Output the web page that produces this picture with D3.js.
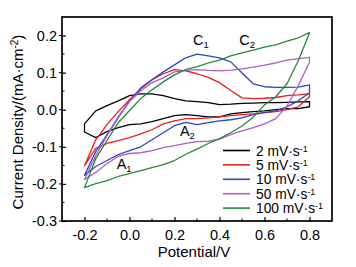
<!DOCTYPE html>
<html>
<head>
<meta charset="utf-8">
<script src="https://cdn.jsdelivr.net/npm/d3@7"></script>
<style>
  body { margin: 0; background: #fff; }
  text { font-family: "Liberation Sans", Arial, sans-serif; fill: #000; }
</style>
</head>
<body>
<div id="chart"></div>
<script>
// potential grid (V) shared by every scan
const potential = [-0.2, -0.15, -0.1, -0.05, 0.0, 0.05, 0.1, 0.15, 0.2, 0.25, 0.3,
                   0.35, 0.4, 0.45, 0.5, 0.55, 0.6, 0.65, 0.7, 0.75, 0.8]

// current density (mA/cm2), forward (anodic) and return (cathodic) sweeps
const anodic2    = [-0.038, -0.003, 0.011, 0.024, 0.038, 0.043, 0.043, 0.038, 0.030, 0.024, 0.022, 0.019, 0.014, 0.015, 0.017, 0.018, 0.019, 0.019, 0.020, 0.021, 0.022]
const cathodic2  = [-0.060, -0.075, -0.059, -0.048, -0.040, -0.038, -0.032, -0.024, -0.016, -0.013, -0.016, -0.019, -0.019, -0.011, -0.008, -0.005, -0.003, 0.000, 0.003, 0.003, 0.008]
const anodic5    = [-0.151, -0.081, -0.040, -0.005, 0.027, 0.056, 0.081, 0.097, 0.108, 0.105, 0.097, 0.087, 0.073, 0.052, 0.032, 0.030, 0.031, 0.033, 0.038, 0.040, 0.043]
const cathodic5  = [-0.151, -0.104, -0.091, -0.083, -0.075, -0.065, -0.054, -0.038, -0.030, -0.024, -0.024, -0.022, -0.019, -0.016, -0.013, -0.011, -0.008, -0.005, 0.000, 0.008, 0.035]
const anodic10   = [-0.177, -0.113, -0.067, -0.020, 0.024, 0.059, 0.081, 0.102, 0.121, 0.140, 0.150, 0.145, 0.140, 0.129, 0.099, 0.070, 0.062, 0.060, 0.060, 0.061, 0.067]
const cathodic10 = [-0.177, -0.153, -0.137, -0.121, -0.110, -0.100, -0.081, -0.062, -0.043, -0.034, -0.040, -0.035, -0.030, -0.027, -0.022, -0.013, -0.008, -0.003, 0.008, 0.024, 0.046]
const anodic50   = [-0.188, -0.124, -0.070, -0.022, 0.022, 0.051, 0.073, 0.086, 0.102, 0.106, 0.108, 0.106, 0.105, 0.107, 0.110, 0.115, 0.120, 0.126, 0.134, 0.138, 0.141]
const cathodic50 = [-0.188, -0.169, -0.145, -0.126, -0.118, -0.116, -0.110, -0.102, -0.097, -0.091, -0.086, -0.085, -0.079, -0.067, -0.057, -0.048, -0.038, -0.024, 0.010, 0.065, 0.128]
const anodic100  = [-0.210, -0.132, -0.083, -0.035, -0.002, 0.030, 0.054, 0.075, 0.094, 0.108, 0.116, 0.126, 0.134, 0.145, 0.153, 0.161, 0.169, 0.175, 0.185, 0.194, 0.208]
const cathodic100= [-0.210, -0.199, -0.191, -0.180, -0.172, -0.164, -0.156, -0.148, -0.137, -0.120, -0.106, -0.091, -0.078, -0.062, -0.044, -0.020, 0.013, 0.035, 0.070, 0.132, 0.207]

const scanRates = ["2", "5", "10", "50", "100"]
const colors = ["#000000", "#ee1c1c", "#2e45c4", "#b35bc6", "#23893a"]

const xTicks = [-0.2, 0.0, 0.2, 0.4, 0.6, 0.8]
const xMinor = [-0.1, 0.1, 0.3, 0.5, 0.7]
const yTicks = [-0.3, -0.2, -0.1, 0.0, 0.1, 0.2]
const yMinor = [-0.25, -0.15, -0.05, 0.05, 0.15]

const peakLabels = [
  {main: "C", sub: "1", x: 0.282, y: 0.175},
  {main: "C", sub: "2", x: 0.488, y: 0.175},
  {main: "A", sub: "2", x: 0.224, y: -0.070},
  {main: "A", sub: "1", x: -0.057, y: -0.159}
]

const width = 356, height = 267
const margin = {left: 62, right: 24, top: 17, bottom: 46}

const svg = d3.select("#chart").append("svg")
  .attr("width", width).attr("height", height)

const x = d3.scaleLinear().domain([-0.3, 0.9]).range([margin.left, width - margin.right])
const y = d3.scaleLinear().domain([-0.3, 0.25]).range([height - margin.bottom, margin.top])

const scans = [
  [anodic2, cathodic2], [anodic5, cathodic5], [anodic10, cathodic10],
  [anodic50, cathodic50], [anodic100, cathodic100]
]

const line = d3.line().x(d => x(d[0])).y(d => y(d[1]))

scans.forEach((s, i) => {
  const fwd = potential.map((p, j) => [p, s[0][j]])
  const back = potential.map((p, j) => [p, s[1][j]]).reverse()
  svg.append("path")
    .attr("d", line(fwd.concat(back)) + "Z")
    .attr("fill", "none")
    .attr("stroke", colors[i])
    .attr("stroke-width", 1.3)
    .attr("stroke-linejoin", "round")
})

// axes, ticks pointing inward
const fmt = d => d.toFixed(1)
const gx = svg.append("g")
  .attr("transform", `translate(0,${height - margin.bottom})`)
  .call(d3.axisBottom(x).tickValues(xTicks).tickFormat(fmt).tickSizeInner(-4).tickSizeOuter(0).tickPadding(9))
gx.append("g").selectAll("line").data(xMinor).join("line")
  .attr("x1", d => x(d)).attr("x2", d => x(d)).attr("y1", 0).attr("y2", -2.5)
  .attr("stroke", "#000")

const gy = svg.append("g")
  .attr("transform", `translate(${margin.left},0)`)
  .call(d3.axisLeft(y).tickValues(yTicks).tickFormat(fmt).tickSizeInner(-4).tickSizeOuter(0).tickPadding(5))
gy.append("g").selectAll("line").data(yMinor).join("line")
  .attr("y1", d => y(d)).attr("y2", d => y(d)).attr("x1", 0).attr("x2", 2.5)
  .attr("stroke", "#000")
// short outer marks at major y ticks
gy.append("g").selectAll("line").data(yTicks).join("line")
  .attr("y1", d => y(d)).attr("y2", d => y(d)).attr("x1", 0).attr("x2", -3)
  .attr("stroke", "#000")

svg.selectAll(".tick text").style("font-size", "14.5px")
svg.selectAll(".domain").remove()
svg.selectAll(".tick line").attr("stroke-width", 1.2)

svg.append("rect")
  .attr("x", margin.left).attr("y", margin.top)
  .attr("width", width - margin.left - margin.right)
  .attr("height", height - margin.top - margin.bottom)
  .attr("fill", "none").attr("stroke", "#000").attr("stroke-width", 1.7)

// axis titles
svg.append("text")
  .attr("x", 194).attr("y", 257)
  .attr("text-anchor", "middle").style("font-size", "15px")
  .text("Potential/V")

const yt = svg.append("text")
  .attr("transform", "translate(23,122) rotate(-90)")
  .attr("text-anchor", "middle").style("font-size", "15px")
yt.append("tspan").text("Current Density/(mA·cm")
yt.append("tspan").attr("dy", -5).style("font-size", "10px").text("-2")
yt.append("tspan").attr("dy", 5).text(")")

// legend
const legend = svg.append("g")
scanRates.forEach((r, i) => {
  const ly = 150.5 + i * 14.4
  legend.append("line")
    .attr("x1", 223).attr("x2", 250).attr("y1", ly).attr("y2", ly)
    .attr("stroke", colors[i]).attr("stroke-width", 1.6)
  const t = legend.append("text")
    .attr("x", 256).attr("y", ly + 5).style("font-size", "13.8px")
  t.append("tspan").text(r + " mV·s")
  t.append("tspan").attr("dy", -4).style("font-size", "9px").text("-1")
})

// peak labels
peakLabels.forEach(p => {
  const t = svg.append("text")
    .attr("x", x(p.x)).attr("y", y(p.y)).style("font-size", "14.5px")
  t.append("tspan").text(p.main)
  t.append("tspan").attr("dy", 3).style("font-size", "9.5px").text(p.sub)
})
</script>
</body>
</html>
